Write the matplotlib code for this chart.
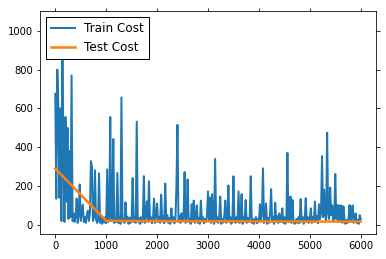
import matplotlib
matplotlib.use("Agg")
import matplotlib.pyplot as plt
import numpy as np

train_step = 20
train_cost = [
    676, 135, 800, 619, 140, 600, 20, 1050, 300, 15,
    556, 120, 500, 30, 380, 40, 770, 20, 60, 15,
    40, 135, 10, 50, 208, 20, 60, 104, 15, 40,
    10, 50, 73, 20, 60, 328, 300, 20, 40, 281,
    30, 10, 20, 265, 10, 45, 5, 30, 12, 40,
    8, 286, 15, 40, 556, 20, 30, 442, 10, 35,
    15, 267, 10, 40, 5, 657, 20, 30, 10, 116,
    20, 40, 5, 38, 10, 30, 241, 15, 40, 10,
    532, 20, 35, 5, 40, 12, 30, 251, 10, 45,
    121, 15, 225, 20, 40, 8, 35, 135, 10, 50,
    109, 15, 40, 10, 156, 25, 45, 8, 213, 20,
    50, 10, 35, 5, 85, 20, 40, 8, 30, 200,
    515, 15, 45, 10, 60, 20, 35, 272, 10, 40,
    234, 15, 30, 5, 106, 25, 125, 10, 40, 100,
    10, 35, 5, 125, 20, 40, 8, 30, 15, 45,
    172, 20, 140, 10, 158, 30, 5, 340, 15, 40,
    10, 35, 146, 5, 30, 12, 45, 125, 10, 30,
    203, 15, 40, 5, 35, 250, 20, 10, 40, 15,
    172, 10, 35, 158, 5, 40, 20, 128, 10, 35,
    15, 40, 250, 10, 30, 5, 25, 40, 8, 30,
    15, 106, 20, 60, 291, 10, 40, 110, 5, 35,
    10, 60, 184, 15, 40, 5, 114, 20, 45, 10,
    59, 15, 30, 85, 10, 40, 5, 30, 371, 15,
    40, 146, 10, 128, 20, 5, 15, 30, 8, 40,
    10, 133, 20, 40, 5, 30, 137, 15, 40, 10,
    35, 85, 10, 40, 15, 120, 20, 45, 8, 106,
    30, 60, 354, 40, 181, 50, 20, 475, 60, 30,
    192, 50, 100, 20, 40, 262, 30, 102, 15, 100,
    20, 100, 10, 95, 30, 5, 25, 10, 30, 102,
    15, 40, 100, 10, 30, 59, 10, 25, 5, 50,
    30,
]
train_iters = np.arange(len(train_cost)) * train_step

test_iters = [0, 1000, 2000, 3000, 4000, 5000, 6000]
test_cost = [290, 21, 19, 18, 18, 17, 17]

fig = plt.figure(figsize=(386 / 72, 259 / 72), dpi=72)
ax = fig.add_axes([40 / 386, 25 / 259, 336 / 386, 223 / 259])

ax.plot(train_iters, train_cost, color="#1f77b4", lw=2, label="Train Cost")
ax.plot(test_iters, test_cost, color="#ff7f0e", lw=2.5, label="Test Cost")

ax.set_xticks([0, 1000, 2000, 3000, 4000, 5000, 6000])
ax.set_yticks([0, 200, 400, 600, 800, 1000])
ax.tick_params(direction="out", top=True, right=True, labelsize=10, length=3.5)

leg = ax.legend(loc="upper left", fontsize=12, fancybox=False, framealpha=1,
                edgecolor="black")
leg.get_frame().set_linewidth(1.0)

fig.savefig("out.png", dpi=72)
